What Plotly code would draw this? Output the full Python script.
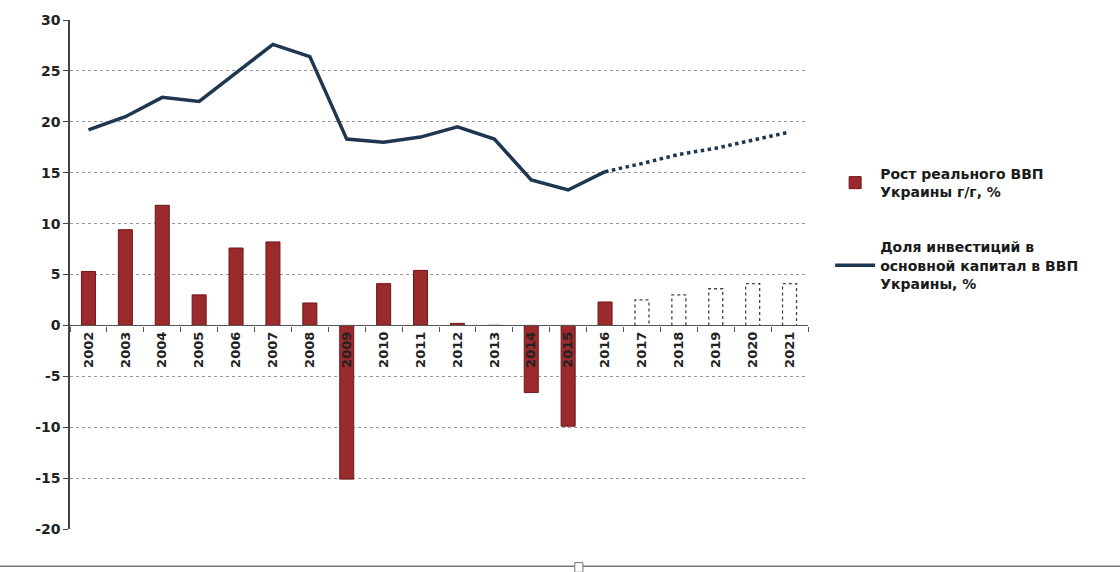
import plotly.graph_objects as go

years = list(range(2002, 2022))
year_labels = [str(y) for y in years]

y_ticks = [-20, -15, -10, -5, 0, 5, 10, 15, 20, 25, 30]
y_tick_labels = [str(v) for v in y_ticks]

# Real GDP growth, y/y %
gdp_years_actual = list(range(2002, 2017))
gdp_actual = [5.3, 9.4, 11.8, 3.0, 7.6, 8.2, 2.2, -15.1, 4.1, 5.4, 0.2, 0.0, -6.6, -9.9, 2.3]
gdp_years_forecast = list(range(2017, 2022))
gdp_forecast = [2.5, 3.0, 3.6, 4.1, 4.1]

# Share of fixed capital investment in GDP, %
inv_years_actual = list(range(2002, 2017))
inv_actual = [19.2, 20.5, 22.4, 22.0, 24.8, 27.6, 26.4, 18.3, 18.0, 18.5, 19.5, 18.3, 14.3, 13.3, 15.1]
inv_years_forecast = list(range(2016, 2022))
inv_forecast = [15.1, 15.9, 16.8, 17.4, 18.2, 19.0]

BAR_W = 0.38
RED = "#9a2a2c"
NAVY = "#1e3650"
FONT = "DejaVu Sans"

fig = go.Figure()

fig.add_trace(go.Bar(
    x=gdp_years_actual, y=gdp_actual, width=BAR_W,
    marker=dict(color=RED, line=dict(color="#6e1618", width=1)),
    name="Рост реального ВВП<br>Украины г/г, %", legendgroup="g1",
))

# forecast bars: white fill with dotted outline
fig.add_trace(go.Bar(
    x=gdp_years_forecast, y=gdp_forecast, width=BAR_W,
    marker=dict(color="white", line=dict(width=0)),
    showlegend=False, hoverinfo="skip", legendgroup="g1",
))
ox, oy = [], []
for x, v in zip(gdp_years_forecast, gdp_forecast):
    ox += [x - BAR_W / 2, x - BAR_W / 2, x + BAR_W / 2, x + BAR_W / 2, None]
    oy += [0, v, v, 0, None]
fig.add_trace(go.Scatter(
    x=ox, y=oy, mode="lines",
    line=dict(color="#444", width=1.3, dash="dot"),
    showlegend=False, hoverinfo="skip", legendgroup="g1",
))

fig.add_trace(go.Scatter(
    x=inv_years_actual, y=inv_actual, mode="lines",
    line=dict(color=NAVY, width=3.5),
    name="Доля инвестиций в<br>основной капитал в ВВП<br>Украины, %", legendgroup="g2",
))
fig.add_trace(go.Scatter(
    x=inv_years_forecast, y=inv_forecast, mode="lines",
    line=dict(color=NAVY, width=3.5, dash="dot"),
    showlegend=False, legendgroup="g2",
))

fig.update_layout(
    width=1120, height=572,
    margin=dict(l=70, r=312, t=18, b=43),
    paper_bgcolor="white", plot_bgcolor="white",
    barmode="overlay",
    font=dict(family=FONT, color="#222"),
    legend=dict(
        x=1.03, y=0.729, xanchor="left", yanchor="top",
        font=dict(family=FONT, size=14, color="#1a1a1a", weight="bold"),
        tracegroupgap=34, itemwidth=40, bgcolor="rgba(0,0,0,0)",
    ),
    xaxis=dict(
        range=[2001.5, 2021.5],
        tickmode="array", tickvals=years, ticktext=year_labels,
        tickangle=-90, ticks="", showgrid=False, zeroline=False,
        showline=True, linecolor="#555", linewidth=1.2,
        anchor="free", position=0.4,
        tickfont=dict(family=FONT, size=13, color="#222", weight="bold"),
        minor=dict(ticks="outside", tick0=2001.5, dtick=1, ticklen=5,
                   tickcolor="#555", showgrid=False),
    ),
    yaxis=dict(
        range=[-20, 30],
        tickmode="array", tickvals=y_ticks, ticktext=y_tick_labels,
        showgrid=True, gridcolor="#9a9a9a", griddash="dot", gridwidth=1,
        zeroline=False, showline=True, linecolor="#444", linewidth=1.5,
        ticks="outside", ticklen=5, tickcolor="#444",
        tickfont=dict(family=FONT, size=14, color="#222", weight="bold"),
    ),
    shapes=[
        dict(type="line", xref="paper", yref="paper",
             x0=-0.095, x1=1.423, y0=-0.073, y1=-0.073,
             line=dict(color="#777", width=1.5)),
        dict(type="rect", xref="paper", yref="paper",
             x0=0.684, x1=0.695, y0=-0.066, y1=-0.085,
             line=dict(color="#777", width=1), fillcolor="white"),
    ],
)

fig.write_html("out.html")
